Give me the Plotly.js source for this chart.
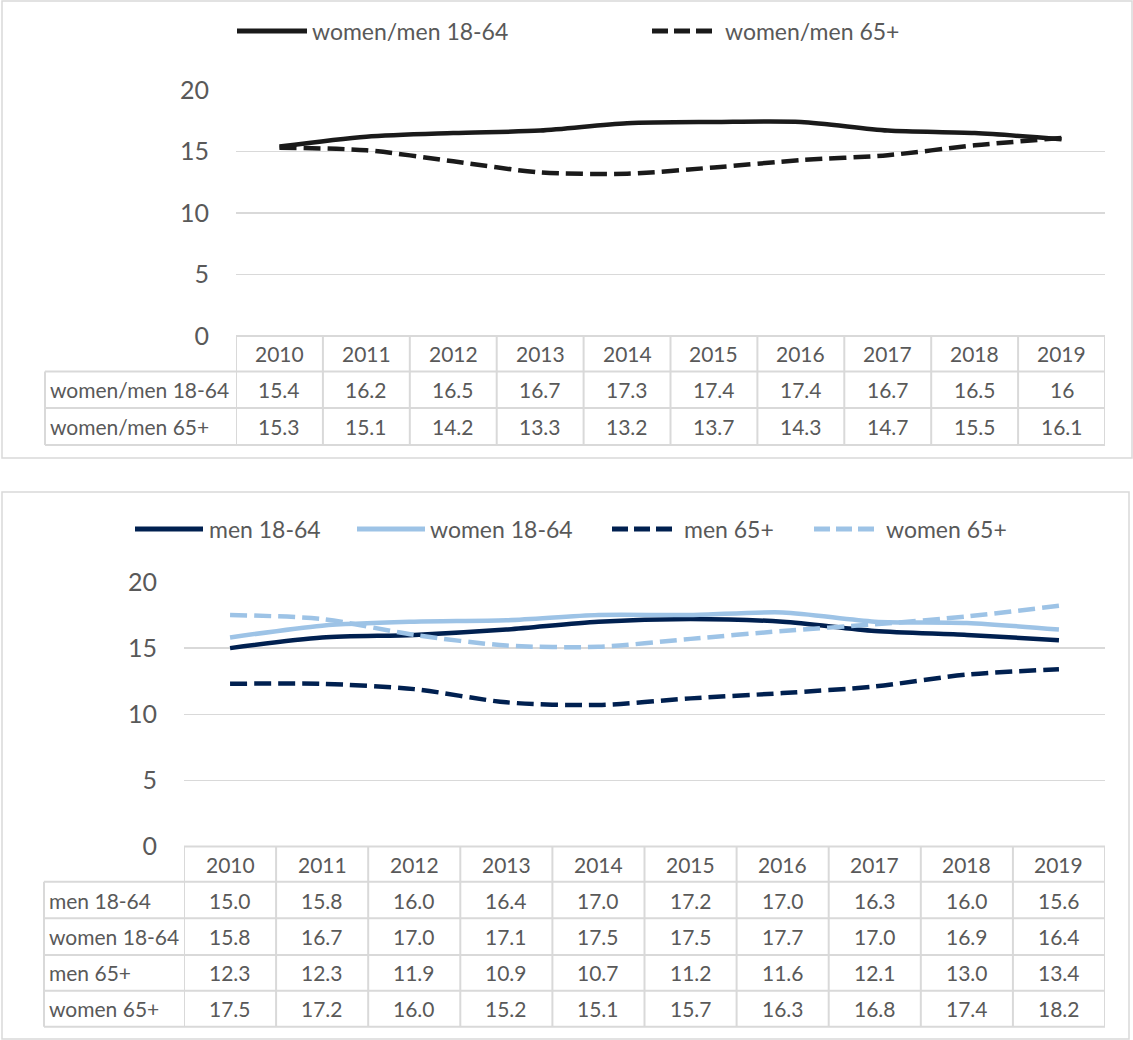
<!DOCTYPE html>
<html>
<head>
<meta charset="utf-8">
<script src="https://cdn.plot.ly/plotly-3.0.1.min.js"></script>
<style>html,body{margin:0;padding:0;background:#fff;}#chart{width:1133px;height:1040px;}</style>
</head>
<body>
<div id="chart"></div>
<script>
// ---- data ----
const years = ['2010','2011','2012','2013','2014','2015','2016','2017','2018','2019'];

const ratioNames = ['women/men 18-64', 'women/men 65+'];
const ratio1864 = [15.4, 16.2, 16.5, 16.7, 17.3, 17.4, 17.4, 16.7, 16.5, 16];
const ratio65 = [15.3, 15.1, 14.2, 13.3, 13.2, 13.7, 14.3, 14.7, 15.5, 16.1];

const groupNames = ['men 18-64', 'women 18-64', 'men 65+', 'women 65+'];
const men1864 = [15.0, 15.8, 16.0, 16.4, 17.0, 17.2, 17.0, 16.3, 16.0, 15.6];
const women1864 = [15.8, 16.7, 17.0, 17.1, 17.5, 17.5, 17.7, 17.0, 16.9, 16.4];
const men65 = [12.3, 12.3, 11.9, 10.9, 10.7, 11.2, 11.6, 12.1, 13.0, 13.4];
const women65 = [17.5, 17.2, 16.0, 15.2, 15.1, 15.7, 16.3, 16.8, 17.4, 18.2];

const yTicks = [0, 5, 10, 15, 20];

// ---- layout helpers ----
const W = 1133, H = 1040;
const px = x => x / W;
const py = y => 1 - y / H;
const FONT = 'Lato, "Open Sans", sans-serif';
const TXT = '#595959';
const GRID = '#d9d9d9';
const BLACK = '#1a1a1a', NAVY = '#002050', LIGHT = '#9dc3e6';
const DASH = '17px,7px';
const LEGEND_SIZE = 23, TABLE_SIZE = 21, TICK_SIZE = 25;

const panels = [
  {
    xa: 'x', ya: 'y',
    plotLeft: 236, plotRight: 1105, yTop: 90, yBottom: 336,
    tableLeft: 45, rowLines: [336, 371.5, 408, 445],
    frame: [2, 1, 1132, 458],
    series: [
      {name: ratioNames[0], values: ratio1864, color: BLACK, dash: 'solid'},
      {name: ratioNames[1], values: ratio65, color: BLACK, dash: DASH}
    ],
    fmt: v => String(v),
    legend: {y: 31, items: [[237, 307, 313], [652, 718, 726]]}
  },
  {
    xa: 'x2', ya: 'y2',
    plotLeft: 184, plotRight: 1105, yTop: 582, yBottom: 846.5,
    tableLeft: 44, rowLines: [846.5, 881.7, 918.3, 955, 990.7, 1026.7],
    frame: [2, 492, 1129, 1039],
    series: [
      {name: groupNames[0], values: men1864, color: NAVY, dash: 'solid'},
      {name: groupNames[1], values: women1864, color: LIGHT, dash: 'solid'},
      {name: groupNames[2], values: men65, color: NAVY, dash: DASH},
      {name: groupNames[3], values: women65, color: LIGHT, dash: DASH}
    ],
    fmt: v => v.toFixed(1),
    legend: {y: 529, items: [[135, 203, 210], [357, 425, 431], [612, 677, 685], [814, 879, 887]]}
  }
];

const traces = [];
const shapes = [];
const annotations = [];
const layout = {
  width: W, height: H,
  margin: {l: 0, r: 0, t: 0, b: 0},
  paper_bgcolor: '#fff', plot_bgcolor: 'rgba(0,0,0,0)',
  showlegend: false,
  font: {family: FONT, color: TXT},
  shapes: shapes, annotations: annotations
};

panels.forEach((p, pi) => {
  const xk = pi === 0 ? 'xaxis' : 'xaxis2';
  const yk = pi === 0 ? 'yaxis' : 'yaxis2';
  layout[xk] = {
    domain: [px(p.plotLeft), px(p.plotRight)],
    type: 'category', range: [-0.5, years.length - 0.5],
    showticklabels: false, showgrid: false, zeroline: false, showline: false,
    anchor: p.ya, fixedrange: true
  };
  layout[yk] = {
    domain: [py(p.yBottom), py(p.yTop)],
    range: [0, 20], tickvals: yTicks,
    showgrid: true, gridcolor: GRID, gridwidth: 1.5,
    zeroline: false, showline: false,
    tickfont: {family: FONT, size: TICK_SIZE, color: TXT},
    ticklabelstandoff: 26,
    anchor: p.xa, fixedrange: true
  };

  // frame
  shapes.push({type: 'rect', xref: 'paper', yref: 'paper',
    x0: px(p.frame[0]), x1: px(p.frame[2]), y0: py(p.frame[1]), y1: py(p.frame[3]),
    line: {color: GRID, width: 1.5}, fillcolor: 'rgba(0,0,0,0)', layer: 'below'});

  // lines
  p.series.forEach(s => {
    traces.push({
      type: 'scatter', mode: 'lines', x: years, y: s.values, name: s.name,
      xaxis: p.xa, yaxis: p.ya,
      line: {color: s.color, width: 4.5, dash: s.dash, shape: 'spline', smoothing: 0.8},
      hoverinfo: 'x+y+name'
    });
  });

  // legend (manual, Excel style long samples)
  p.series.forEach((s, i) => {
    const it = p.legend.items[i];
    shapes.push({type: 'line', xref: 'paper', yref: 'paper',
      x0: px(it[0]), x1: px(it[1]), y0: py(p.legend.y), y1: py(p.legend.y),
      line: {color: s.color, width: 5, dash: s.dash === 'solid' ? 'solid' : '16px,6px'}});
    annotations.push({xref: 'paper', yref: 'paper', x: px(it[2] - 3), y: py(p.legend.y),
      xanchor: 'left', yanchor: 'middle', text: s.name, showarrow: false,
      font: {family: FONT, size: LEGEND_SIZE, color: TXT}});
  });

  // data table
  const rl = p.rowLines;
  const tableBottom = rl[rl.length - 1];
  const xref = p.xa;
  shapes.push({type: 'line', xref: 'paper', yref: 'paper',
    x0: px(p.plotLeft), x1: px(p.plotRight), y0: py(rl[0]), y1: py(rl[0]),
    line: {color: GRID, width: 2}});
  for (let k = 1; k < rl.length; k++) {
    shapes.push({type: 'line', xref: 'paper', yref: 'paper',
      x0: px(p.tableLeft), x1: px(p.plotRight), y0: py(rl[k]), y1: py(rl[k]),
      line: {color: GRID, width: 2}});
  }
  shapes.push({type: 'line', xref: 'paper', yref: 'paper',
    x0: px(p.tableLeft), x1: px(p.tableLeft), y0: py(rl[1]), y1: py(tableBottom),
    line: {color: GRID, width: 2}});
  for (let i = 0; i <= years.length; i++) {
    shapes.push({type: 'line', xref: xref, yref: 'paper',
      x0: i - 0.5, x1: i - 0.5, y0: py(rl[0]), y1: py(tableBottom),
      line: {color: GRID, width: 2}});
  }
  // header years (category index positions on the x axis)
  years.forEach((yr, i) => {
    annotations.push({xref: xref, yref: 'paper', x: i, y: py((rl[0] + rl[1]) / 2),
      xanchor: 'center', yanchor: 'middle', text: yr, showarrow: false,
      font: {family: FONT, size: TABLE_SIZE, color: TXT}});
  });
  // rows
  p.series.forEach((s, r) => {
    const yc = py((rl[r + 1] + rl[r + 2]) / 2);
    annotations.push({xref: 'paper', yref: 'paper', x: px(p.tableLeft + 3), y: yc,
      xanchor: 'left', yanchor: 'middle', text: s.name, showarrow: false,
      font: {family: FONT, size: TABLE_SIZE, color: TXT}});
    s.values.forEach((v, i) => {
      annotations.push({xref: xref, yref: 'paper', x: i, y: yc,
        xanchor: 'center', yanchor: 'middle', text: p.fmt(v), showarrow: false,
        font: {family: FONT, size: TABLE_SIZE, color: TXT}});
    });
  });
});

Plotly.newPlot('chart', traces, layout, {displayModeBar: false, staticPlot: true});
</script>
</body>
</html>
